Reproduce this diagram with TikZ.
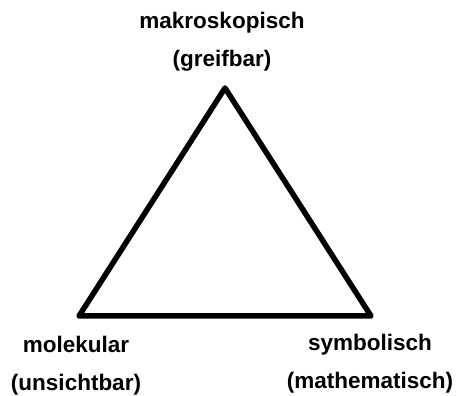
\documentclass[tikz,border=0pt]{standalone}
\usepackage{fontspec}
\setmainfont{Liberation Sans}
\usepackage{tikz}
\usetikzlibrary{positioning}

\begin{document}
\begin{tikzpicture}[
        x=1pt, y=1pt,
        label/.style={align=center, font=\fontsize{22.5}{38}\selectfont\bfseries},
        edge/.style={line width=5.5pt, line join=round},
    ]
        \useasboundingbox (0,0) rectangle (459,396);

        % Triangle corners
        \coordinate (top) at (225,308);
        \coordinate (left) at (79,80);
        \coordinate (right) at (371,80);

        % Labels
        \node[label] (makro) at (222,354) {makroskopisch\\(greifbar)};
        \node[label] (mole) at (76,30) {molekular\\(unsichtbar)};
        \node[label] (symb) at (370,32) {symbolisch\\(mathematisch)};

        % Edges
        \draw[edge] (top) -- (left) -- (right) -- cycle;

    \end{tikzpicture}
\end{document}
